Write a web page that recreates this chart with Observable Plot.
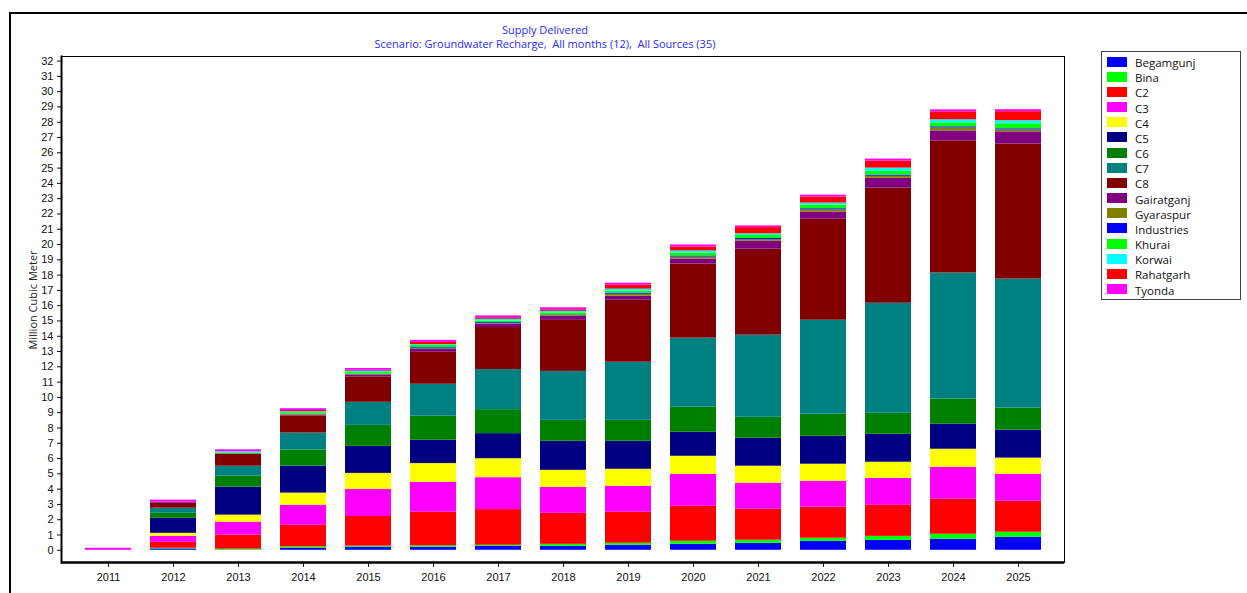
<!DOCTYPE html>
<html>
<head>
<meta charset="utf-8">
<script src="https://cdn.jsdelivr.net/npm/d3@7"></script>
<script src="https://cdn.jsdelivr.net/npm/@observablehq/plot@0.6"></script>
<style>
  html, body { margin: 0; padding: 0; background: #fff; }
  body { width: 1247px; height: 593px; position: relative; overflow: hidden; }
  #border { position: absolute; left: 9px; top: 12px; width: 1300px; height: 700px; border-left: 2px solid #000; border-top: 2px solid #000; }
  #title { position: absolute; left: 0; width: 1090px; top: 23px; text-align: center; font-family: "Open Sans", sans-serif; font-size: 11px; line-height: 13.5px; color: #2a2aff; white-space: pre; }
  #ylabel { position: absolute; left: 32px; top: 300px; transform: translate(-50%, -50%) rotate(-90deg); font-family: "Open Sans", sans-serif; font-size: 11px; color: #222; white-space: nowrap; }
  #chart { position: absolute; left: 0; top: 0; }
  #legend { position: absolute; left: 1101px; top: 51px; width: 138px; height: 247px; border: 1px solid #444; box-sizing: content-box; font-family: "Open Sans", sans-serif; font-size: 11.5px; color: #111; }
  .row { position: absolute; left: 5px; height: 15px; display: flex; align-items: center; }
  .sw { width: 20px; height: 10px; margin-right: 8px; }
</style>
</head>
<body>
<div id="border"></div>
<div id="chart"></div>
<div id="title">Supply Delivered
Scenario: Groundwater Recharge,  All months (12),  All Sources (35)</div>
<div id="ylabel">Million Cubic Meter</div>
<div id="legend"></div>
<script>
const years = ["2011","2012","2013","2014","2015","2016","2017","2018","2019","2020","2021","2022","2023","2024","2025"];
const seriesNames = ["Begamgunj","Bina","C2","C3","C4","C5","C6","C7","C8","Gairatganj","Gyaraspur","Industries","Khurai","Korwai","Rahatgarh","Tyonda"];
const seriesColors = ["#0000ff","#00ff00","#ff0000","#ff00ff","#ffff00","#000080","#008000","#008080","#800000","#800080","#808000","#0000ff","#00ff00","#00ffff","#ff0000","#ff00ff"];
const yTicks = d3.range(0, 33);

const Begamgunj  = [0, 0.09, 0, 0.13, 0.2, 0.2, 0.26, 0.26, 0.33, 0.39, 0.46, 0.59, 0.65, 0.72, 0.85];
const Bina       = [0, 0.04, 0.07, 0.09, 0.07, 0.09, 0.07, 0.13, 0.13, 0.2, 0.2, 0.2, 0.26, 0.33, 0.33];
const C2         = [0, 0.39, 0.92, 1.42, 1.94, 2.2, 2.33, 2.03, 2.03, 2.29, 2.03, 2.03, 2.03, 2.29, 2.03];
const C3         = [0.13, 0.39, 0.85, 1.31, 1.77, 1.96, 2.09, 1.7, 1.7, 2.09, 1.7, 1.7, 1.77, 2.09, 1.77];
const C4         = [0, 0.2, 0.46, 0.79, 1.05, 1.22, 1.24, 1.11, 1.11, 1.18, 1.11, 1.11, 1.05, 1.18, 1.05];
const C5         = [0, 0.98, 1.83, 1.77, 1.77, 1.53, 1.64, 1.9, 1.83, 1.57, 1.83, 1.83, 1.83, 1.64, 1.83];
const C6         = [0, 0.33, 0.72, 1.05, 1.37, 1.57, 1.57, 1.37, 1.37, 1.64, 1.37, 1.44, 1.37, 1.64, 1.44];
const C7         = [0, 0.33, 0.65, 1.11, 1.51, 2.09, 2.62, 3.2, 3.8, 4.52, 5.37, 6.15, 7.2, 8.25, 8.44];
const C8         = [0, 0.33, 0.79, 1.11, 1.66, 2.09, 2.75, 3.34, 4.06, 4.84, 5.63, 6.61, 7.53, 8.64, 8.84];
const Gairatganj = [0, 0.07, 0.02, 0.06, 0.12, 0.2, 0.22, 0.26, 0.26, 0.33, 0.52, 0.46, 0.65, 0.65, 0.79];
const Gyaraspur  = [0, 0, 0, 0.04, 0.03, 0.03, 0.04, 0.07, 0.13, 0.13, 0.1, 0.15, 0.13, 0.2, 0.13];
const Industries = [0, 0, 0, 0.02, 0.03, 0.07, 0.06, 0.03, 0.07, 0.07, 0.07, 0.07, 0.07, 0.07, 0.07];
const Khurai     = [0, 0, 0.06, 0.1, 0.1, 0.15, 0.1, 0.13, 0.13, 0.2, 0.2, 0.24, 0.26, 0.26, 0.33];
const Korwai     = [0, 0, 0.07, 0.06, 0.1, 0.05, 0.12, 0.1, 0.13, 0.13, 0.11, 0.13, 0.2, 0.2, 0.2];
const Rahatgarh  = [0, 0, 0, 0.08, 0.05, 0.15, 0.1, 0.1, 0.26, 0.26, 0.41, 0.39, 0.46, 0.52, 0.59];
const Tyonda     = [0, 0.13, 0.13, 0.12, 0.12, 0.13, 0.12, 0.13, 0.13, 0.13, 0.11, 0.13, 0.13, 0.13, 0.13];

const seriesValues = [Begamgunj, Bina, C2, C3, C4, C5, C6, C7, C8, Gairatganj, Gyaraspur, Industries, Khurai, Korwai, Rahatgarh, Tyonda];

const data = [];
seriesNames.forEach((name, si) => {
  years.forEach((yr, yi) => {
    data.push({series: name, year: yr, value: seriesValues[si][yi]});
  });
});

const yMin = -0.8, yMax = 32.3;

const chart = Plot.plot({
  width: 1247,
  height: 593,
  marginLeft: 61,
  marginRight: 183,
  marginTop: 56,
  marginBottom: 31,
  style: {fontFamily: "'Liberation Sans', Arial, sans-serif", fontSize: "11px", color: "#111", background: "transparent"},
  x: {type: "band", domain: years, paddingInner: 0.3, paddingOuter: 0.32, label: null, tickSize: 5, tickPadding: 6, fontSize: 10},
  y: {domain: [yMin, yMax], ticks: yTicks, tickSize: 4, tickPadding: 4, label: null, tickFormat: d => d},
  color: {domain: seriesNames, range: seriesColors},
  marks: [
    Plot.barY(data, {x: "year", y: "value", fill: "series"}),
    Plot.frame({stroke: "#000", strokeWidth: 1}),
    Plot.frame({anchor: "left", stroke: "#000", strokeWidth: 2}),
    Plot.ruleY([yMin], {stroke: "#000", strokeWidth: 2.5})
  ]
});
document.getElementById("chart").appendChild(chart);

const legend = document.getElementById("legend");
seriesNames.forEach((name, i) => {
  const row = document.createElement("div");
  row.className = "row";
  row.style.top = (i * 15.17 + 2) + "px";
  const sw = document.createElement("div");
  sw.className = "sw";
  sw.style.background = seriesColors[i];
  const t = document.createElement("span");
  t.textContent = name;
  t.style.position = "relative";
  t.style.top = "1px";
  row.appendChild(sw);
  row.appendChild(t);
  legend.appendChild(row);
});
</script>
</body>
</html>
